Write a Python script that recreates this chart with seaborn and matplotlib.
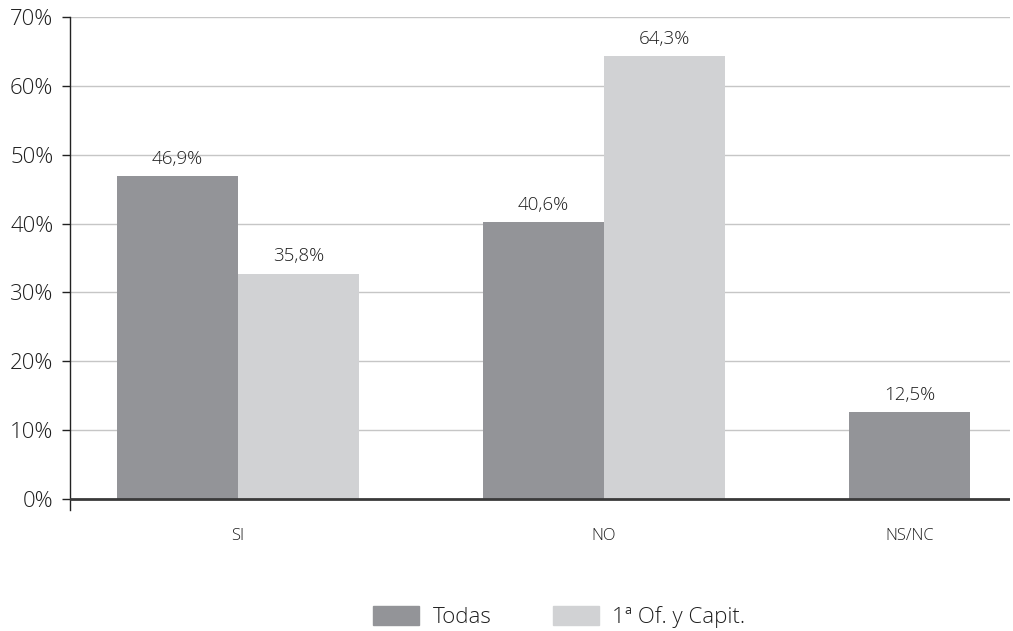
import numpy as np
import pandas as pd
import matplotlib
matplotlib.use("Agg")
import matplotlib.pyplot as plt
import matplotlib.patches as mpatches
import seaborn as sns

categories = ["SI", "NO", "NS/NC"]
series = ["Todas", "1ª Of. y Capit."]
todas = [46.9, 40.2, 12.6]
capit = [32.7, 64.3, np.nan]
todas_labels = ["46,9%", "40,6%", "12,5%"]
capit_labels = ["35,8%", "64,3%", ""]
yticks = [0, 10, 20, 30, 40, 50, 60, 70]
ytick_labels = ["0%", "10%", "20%", "30%", "40%", "50%", "60%", "70%"]
colors = ["#939498", "#d1d2d4"]

df = pd.DataFrame({
    "cat": categories * 2,
    "serie": [series[0]] * 3 + [series[1]] * 3,
    "val": todas + capit,
})

sns.set_style("white")
plt.rcParams["font.family"] = ["Open Sans", "DejaVu Sans"]
plt.rcParams["font.weight"] = "light"
text_col = "#1e1e1e"

fig = plt.figure(figsize=(10.13, 6.31), dpi=100)
ax = fig.add_axes([70 / 1013, 1 - 510 / 631, (1010 - 70) / 1013, (510 - 17) / 631])

width = 0.66
sns.barplot(data=df, x="cat", y="val", hue="serie", order=categories,
            hue_order=series, palette=colors, width=width, saturation=1,
            dodge=True, ax=ax, legend=False, edgecolor="none", linewidth=0)

# bar labels
for cont, labs in zip(ax.containers, [todas_labels, capit_labels]):
    for bar, lab in zip(cont, labs):
        if bar is None or not lab:
            continue
        h = bar.get_height()
        if not np.isfinite(h):
            continue
        ax.annotate(lab, (bar.get_x() + bar.get_width() / 2, h),
                    xytext=(0, 6), textcoords="offset points",
                    ha="center", va="bottom", fontsize=13.5, color=text_col)

ax.set_ylim(-1.6, 70)
ax.set_xlim(-0.459, 2.109)
ax.set_yticks(yticks)
ax.set_yticklabels(ytick_labels, fontsize=16, color=text_col)
ax.set_xticks([0, 1, 2 - width / 4])
ax.set_xticklabels(categories, fontsize=12, color=text_col)
ax.tick_params(axis="x", length=0, pad=13)
ax.tick_params(axis="y", length=6, width=1, color="#222222", direction="out", pad=6, left=True)
ax.set_xlabel("")
ax.set_ylabel("")

for y in yticks[1:]:
    ax.axhline(y, color="#c6c6c6", lw=1, zorder=0)
ax.axhline(0, color="#3a3a3a", lw=2, zorder=5)

for s in ["top", "right", "bottom"]:
    ax.spines[s].set_visible(False)
ax.spines["left"].set_color("#222222")
ax.spines["left"].set_linewidth(1)

handles = [mpatches.Patch(color=c, label=s) for c, s in zip(colors, series)]
leg = fig.legend(handles=handles, loc="center", bbox_to_anchor=(0.552, 0.022),
                 ncol=2, frameon=False, fontsize=16, handlelength=2.07,
                 handleheight=0.95, handletextpad=0.6, columnspacing=2.75)
for t in leg.get_texts():
    t.set_color(text_col)

fig.savefig("out.png", dpi=100)
